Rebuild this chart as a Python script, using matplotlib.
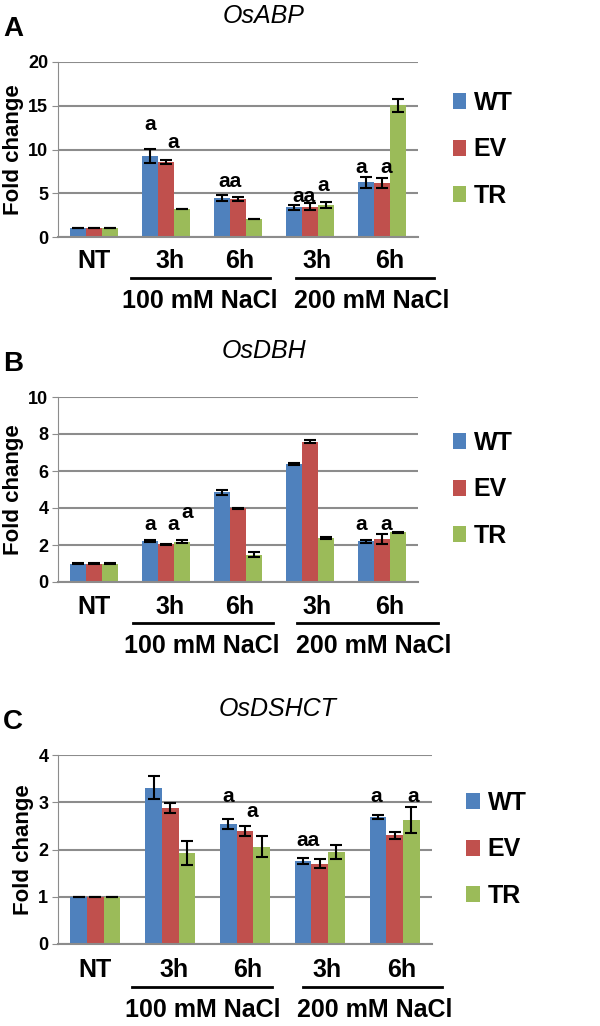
import matplotlib
matplotlib.use("Agg")
import matplotlib.pyplot as plt
import numpy as np

plt.rcParams['font.family'] = ['Liberation Sans', 'DejaVu Sans']

# Data
categories = ["NT", "3h", "6h", "3h", "6h"]
groups = ["100 mM NaCl", "200 mM NaCl"]
series = ["WT", "EV", "TR"]
colors = ["#4F81BD", "#C0504D", "#9BBB59"]

abp_mean = [[1.0, 9.25, 4.45, 3.4, 6.25],
            [1.0, 8.55, 4.35, 3.45, 6.15],
            [1.0, 3.2, 2.05, 3.65, 15.05]]
abp_err = [[0.02, 0.8, 0.35, 0.3, 0.6],
           [0.02, 0.25, 0.25, 0.4, 0.55],
           [0.02, 0.05, 0.03, 0.3, 0.75]]
# (category, bar slot, height, text)
abp_letters = [(1, 0, 12.8, "a"), (1, 1.44, 10.8, "a"), (2, 0.5, 6.3, "aa"),
               (3, 0.6, 4.6, "aa"), (3, 1.8, 5.9, "a"), (4, -0.3, 7.9, "a"), (4, 1.25, 7.9, "a")]

dbh_mean = [[1.0, 2.2, 4.85, 6.4, 2.2],
            [1.0, 2.03, 3.98, 7.58, 2.32],
            [1.0, 2.18, 1.48, 2.37, 2.68]]
dbh_err = [[0.03, 0.05, 0.15, 0.05, 0.07],
           [0.03, 0.03, 0.02, 0.07, 0.25],
           [0.03, 0.08, 0.15, 0.04, 0.04]]
dbh_letters = [(1, 0, 3.1, "a"), (1, 1.44, 3.1, "a"), (1, 2.3, 3.75, "a"),
               (4, -0.3, 3.1, "a"), (4, 1.25, 3.1, "a")]

dshct_mean = [[1.0, 3.31, 2.54, 1.75, 2.69],
              [1.0, 2.88, 2.39, 1.70, 2.30],
              [1.0, 1.92, 2.06, 1.94, 2.62]]
dshct_err = [[0.0, 0.25, 0.1, 0.06, 0.04],
             [0.0, 0.1, 0.1, 0.1, 0.08],
             [0.0, 0.25, 0.22, 0.15, 0.28]]
dshct_letters = [(2, 0, 3.12, "a"), (2, 1.42, 2.8, "a"), (3, 0.28, 2.2, "aa"),
                 (4, -0.08, 3.12, "a"), (4, 2.14, 3.12, "a")]

W, H = 600, 1026
fig = plt.figure(figsize=(6, 10.26), dpi=100)

grey = "#8C8C8C"
bw = 0.222
cat_x = [0, 1.05, 2.03, 3.1, 4.1]


def panel(box, letter, title, title_x, means, errs, letters, ymax, ystep,
          spans, group_x, offs):
    left, right, top, bottom = box
    ax = fig.add_axes([left / W, (H - bottom) / H, (right - left) / W, (bottom - top) / H])
    h = bottom - top
    w = right - left
    x = np.arange(len(categories))

    for i in range(3):
        ax.bar(x + (i - 1) * bw, means[i], bw, color=colors[i], label=series[i], zorder=2)
        ax.errorbar(x + (i - 1) * bw, means[i], yerr=errs[i], fmt='none', ecolor='black',
                    elinewidth=1.5, capsize=4, capthick=1.5, zorder=3)

    for c, s, y, t in letters:
        ax.text(c + (s - 1) * bw, y, t, ha='center', va='center',
                fontsize=15, fontweight='bold')

    ax.set_xlim(-0.5, 4.5)
    ax.set_ylim(0, ymax)
    ax.set_yticks(np.arange(0, ymax + ystep / 2, ystep))
    ax.yaxis.grid(True, color=grey, linewidth=1.5, zorder=0)
    ax.set_axisbelow(True)
    for side in ['top', 'right']:
        ax.spines[side].set_visible(False)
    ax.spines['left'].set_color(grey)
    ax.spines['bottom'].set_color(grey)
    ax.spines['bottom'].set_linewidth(1.5)
    ax.set_xticks([])
    ax.tick_params(axis='y', length=4, color=grey, labelsize=13, pad=3)
    for t in ax.get_yticklabels():
        t.set_fontweight('bold')
    ax.set_ylabel("Fold change", fontsize=16, fontweight='bold', labelpad=3)

    # category and treatment labels below the axis
    tr = ax.get_xaxis_transform()
    for cx, lab in zip(cat_x, categories):
        ax.text(cx, -offs[0] / h, lab, transform=tr, ha='center',
                va='center', fontsize=18, fontweight='bold')
    for (x0, x1), gx, g in zip(spans, group_x, groups):
        ax.plot([x0, x1], [-offs[1] / h, -offs[1] / h], color='black', linewidth=2,
                transform=tr, clip_on=False)
        ax.text(gx, -offs[2] / h, g, transform=tr, ha='center',
                va='center', fontsize=18, fontweight='bold')

    ax.set_title(title, fontsize=18, fontstyle='italic', pad=28,
                 x=(title_x - left) / w)
    fig.text(3 / W, 1 - (top - 33) / H, letter, fontsize=20, fontweight='bold',
             ha='left', va='center')

    ax.legend(loc='center left', bbox_to_anchor=(1.0 + 12 / w, 0.5), frameon=False,
              prop={'size': 18, 'weight': 'bold'}, handlelength=0.55,
              handleheight=0.6, handletextpad=0.3, labelspacing=0.9)
    return ax


panel((58, 418, 62, 237), "A", "OsABP", 264, abp_mean, abp_err, abp_letters, 20, 5,
      [(0.52, 2.45), (2.8, 4.72)], [1.47, 3.85], (24, 41, 64))
panel((58, 418, 397, 582), "B", "OsDBH", 264, dbh_mean, dbh_err, dbh_letters, 10, 2,
      [(0.54, 2.49), (2.82, 4.78)], [1.5, 3.88], (25, 41, 64))
panel((58, 432, 755, 944), "C", "OsDSHCT", 278, dshct_mean, dshct_err, dshct_letters, 4, 1,
      [(0.49, 2.36), (2.77, 4.64)], [1.44, 3.73], (26, 43, 66))

fig.savefig("out.png", dpi=100)
